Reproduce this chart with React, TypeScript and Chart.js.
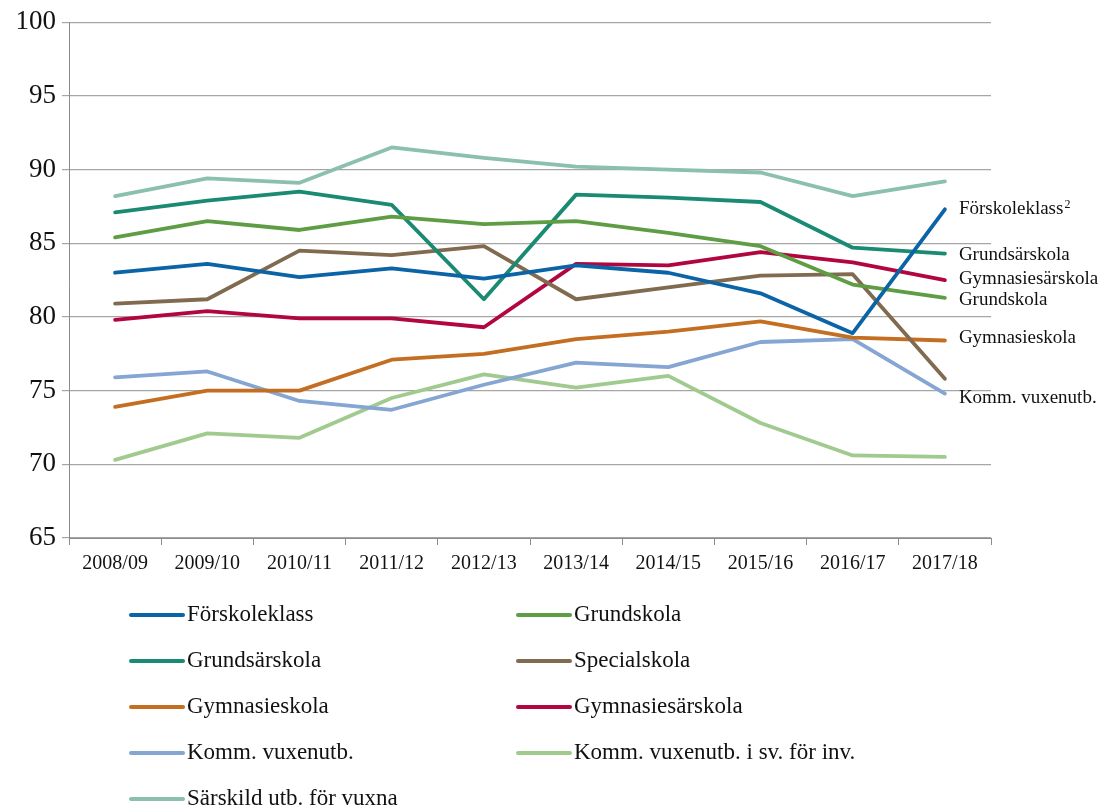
import React, { useEffect, useRef } from "react";
import { Chart, registerables } from "chart.js";

Chart.register(...registerables);

const categories = ["2008/09", "2009/10", "2010/11", "2011/12", "2012/13", "2013/14", "2014/15", "2015/16", "2016/17", "2017/18"];

const forskoleklass = [83.0, 83.6, 82.7, 83.3, 82.6, 83.5, 83.0, 81.6, 78.9, 87.3];
const grundskola = [85.4, 86.5, 85.9, 86.8, 86.3, 86.5, 85.7, 84.8, 82.2, 81.3];
const grundsarskola = [87.1, 87.9, 88.5, 87.6, 81.2, 88.3, 88.1, 87.8, 84.7, 84.3];
const specialskola = [80.9, 81.2, 84.5, 84.2, 84.8, 81.2, 82.0, 82.8, 82.9, 75.8];
const gymnasieskola = [73.9, 75.0, 75.0, 77.1, 77.5, 78.5, 79.0, 79.7, 78.6, 78.4];
const gymnasiesarskola = [79.8, 80.4, 79.9, 79.9, 79.3, 83.6, 83.5, 84.4, 83.7, 82.5];
const kommVux = [75.9, 76.3, 74.3, 73.7, 75.4, 76.9, 76.6, 78.3, 78.5, 74.8];
const kommVuxSfi = [70.3, 72.1, 71.8, 74.5, 76.1, 75.2, 76.0, 72.8, 70.6, 70.5];
const sarskildVuxna = [88.2, 89.4, 89.1, 91.5, 90.8, 90.2, 90.0, 89.8, 88.2, 89.2];

const seriesNames = [
  "Förskoleklass",
  "Grundskola",
  "Grundsärskola",
  "Specialskola",
  "Gymnasieskola",
  "Gymnasiesärskola",
  "Komm. vuxenutb.",
  "Komm. vuxenutb. i sv. för inv.",
  "Särskild utb. för vuxna",
];
const seriesValues = [forskoleklass, grundskola, grundsarskola, specialskola, gymnasieskola, gymnasiesarskola, kommVux, kommVuxSfi, sarskildVuxna];
const seriesColors = ["#0B64A5", "#5F9D44", "#1A8A73", "#806A50", "#C46E22", "#B1063F", "#85A5D2", "#A1CA8F", "#8BBFAF"];

// end-of-line labels: dataset index, text, vertical nudge
const endLabels: [number, string, number][] = [
  [0, "Förskoleklass²", 0],
  [2, "Grundsärskola", 1],
  [5, "Gymnasiesärskola", -1],
  [1, "Grundskola", 2],
  [4, "Gymnasieskola", -3],
  [6, "Komm. vuxenutb.", 4],
];

const yTicks = [65, 70, 75, 80, 85, 90, 95, 100];

const FONT = "'Liberation Serif', 'DejaVu Serif', serif";

const overlayPlugin = {
  id: "overlay",
  afterDraw(chart: any) {
    const ctx = chart.ctx;
    const xs = chart.scales.x;
    const ys = chart.scales.y;
    ctx.save();
    ctx.fillStyle = "#111";
    ctx.textBaseline = "middle";
    ctx.textAlign = "left";
    const lastIdx = categories.length - 1;
    const lx = xs.getPixelForValue(lastIdx) + 14;
    endLabels.forEach(([di, text, dy]) => {
      const v = seriesValues[di][lastIdx];
      const y = ys.getPixelForValue(v) + dy;
      ctx.font = `19px ${FONT}`;
      if (text.endsWith("²")) {
        const base = text.slice(0, -1);
        ctx.fillText(base, lx, y);
        const w = ctx.measureText(base).width;
        ctx.font = `12px ${FONT}`;
        ctx.fillText("2", lx + w + 1, y - 5);
      } else {
        ctx.fillText(text, lx, y);
      }
    });
    const colX = [129, 516];
    seriesNames.forEach((name, i) => {
      const col = i % 2;
      const row = Math.floor(i / 2);
      const x0 = colX[col];
      const y = 615 + 46 * row;
      ctx.strokeStyle = seriesColors[i];
      ctx.lineWidth = 4;
      ctx.lineCap = "round";
      ctx.beginPath();
      ctx.moveTo(x0 + 2, y);
      ctx.lineTo(x0 + 54, y);
      ctx.stroke();
      ctx.fillStyle = "#111";
      ctx.font = `23px ${FONT}`;
      ctx.textBaseline = "middle";
      ctx.fillText(name, x0 + 58, y);
    });
    ctx.restore();
  },
};

export default function App() {
  const ref = useRef<HTMLCanvasElement | null>(null);
  useEffect(() => {
    if (!ref.current) return;
    const chart = new Chart(ref.current, {
      type: "line",
      data: {
        labels: categories,
        datasets: seriesNames.map((name, i) => ({
          label: name,
          data: seriesValues[i],
          borderColor: seriesColors[i],
          backgroundColor: seriesColors[i],
          borderWidth: 3.8,
          pointRadius: 0,
          tension: 0,
          borderCapStyle: "round" as const,
          borderJoinStyle: "round" as const,
          fill: false,
        })),
      },
      options: {
        animation: false,
        responsive: false,
        maintainAspectRatio: false,
        layout: { padding: { top: 20, right: 128, bottom: 231, left: 0 } },
        plugins: {
          legend: { display: false },
          tooltip: { enabled: false },
        },
        scales: {
          x: {
            offset: true,
            afterFit(scale: any) {
              scale.height = 40;
            },
            grid: {
              offset: true,
              drawOnChartArea: false,
              drawTicks: true,
              tickLength: 7,
              color: "#8c8c8c",
            },
            border: { color: "#8c8c8c", width: 1 },
            ticks: {
              color: "#111",
              font: { family: FONT, size: 20 },
              padding: 7,
              maxRotation: 0,
              autoSkip: false,
            },
          },
          y: {
            min: 65,
            max: 100,
            afterFit(scale: any) {
              scale.width = 69;
            },
            afterBuildTicks(scale: any) {
              scale.ticks = yTicks.map((v) => ({ value: v }));
            },
            grid: {
              color: "#a6a6a6",
              lineWidth: 1.2,
              drawTicks: true,
              tickLength: 7,
            },
            border: { color: "#8c8c8c", width: 1 },
            ticks: {
              color: "#111",
              font: { family: FONT, size: 27 },
              padding: 6,
            },
          },
        },
      },
      plugins: [overlayPlugin],
    });
    return () => chart.destroy();
  }, []);
  return (
    <div style={{ position: "fixed", left: 0, top: 0, width: 1119, height: 809, background: "#fff" }}>
      <canvas ref={ref} width={1119} height={809} style={{ width: 1119, height: 809, display: "block" }} />
    </div>
  );
}
